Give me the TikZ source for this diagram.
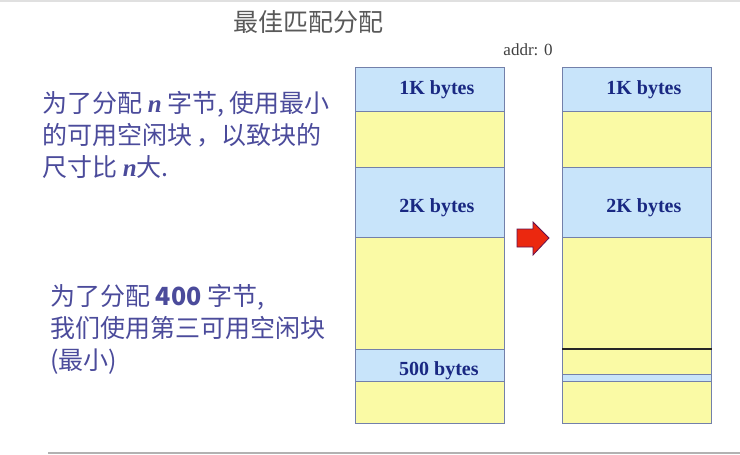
\documentclass[tikz,border=0pt]{standalone}
\usepackage{fontspec}
\setmainfont{Liberation Serif}
\newfontfamily\cjk{Noto Sans CJK SC}
\usetikzlibrary{positioning}

\definecolor{memblue}{RGB}{200,228,250}
\definecolor{memyellow}{RGB}{250,250,165}
\definecolor{memedge}{RGB}{115,128,170}
\definecolor{labblue}{RGB}{25,40,130}
\definecolor{txtblue}{RGB}{75,75,155}
\definecolor{arrred}{RGB}{235,40,15}

\newcommand{\nvar}{{\rmfamily\bfseries\itshape n}}

\begin{document}
\begin{tikzpicture}[x=1pt,y=-1pt]
            \tikzset{every node/.style={inner sep=0pt},
                    memblk/.style={draw=memedge, thick, anchor=north west, minimum width=149pt},
                    usedblk/.style={memblk, fill=memblue},
                    freeblk/.style={memblk, fill=memyellow},
                    blklab/.style={font=\bfseries\fontsize{20}{22}\selectfont, text=labblue},
                    note/.style={font=\cjk\fontsize{25}{32}\selectfont, text=txtblue, align=left, anchor=west}}
            \useasboundingbox (0,0) rectangle (740,455);
            \fill[white] (0,0) rectangle (740,455);
            \draw[black!12, line width=1.5pt] (0,1) -- (740,1);
            \draw[black!30, line width=2pt] (48,453) -- (740,453);
            % title
            \node[font=\cjk\fontsize{25}{28}\selectfont, text=black!65] (title) at (308,22) {最佳匹配分配};
            \node[font=\fontsize{17}{19}\selectfont, text=black!75] (addr) at (528,50) {addr: 0};
            % notes
            \node[note] (noteA) at (42,135) {为了分配 \nvar{} 字节, 使用最小\\的可用空闲块\,，以致块的\\尺寸比 \nvar{}大.};
            \node[note] (noteB) at (50,329) {为了分配 \textbf{400} 字节,\\我们使用第三可用空闲块\\(最小)};
            % memory before
            \node[usedblk, minimum height=44pt] (l1) at (355,67) {};
            \node[freeblk, minimum height=56pt] (l2) at (355,111) {};
            \node[usedblk, minimum height=70pt] (l3) at (355,167) {};
            \node[freeblk, minimum height=112pt] (l4) at (355,237) {};
            \node[usedblk, minimum height=32pt] (l5) at (355,349) {};
            \node[freeblk, minimum height=42pt] (l6) at (355,381) {};
            \node[blklab] at ([shift={(7,0)}]l1.center) {1K bytes};
            \node[blklab] at ([shift={(7,5)}]l3.center) {2K bytes};
            \node[blklab] at ([shift={(9,5)}]l5.center) {500 bytes};
            % memory after
            \node[usedblk, minimum height=44pt] (r1) at (562,67) {};
            \node[freeblk, minimum height=56pt] (r2) at (562,111) {};
            \node[usedblk, minimum height=70pt] (r3) at (562,167) {};
            \node[freeblk, minimum height=112pt] (r4) at (562,237) {};
            \node[freeblk, minimum height=25pt] (r5) at (562,349) {};
            \node[usedblk, minimum height=7pt] (r6) at (562,374) {};
            \node[freeblk, minimum height=42pt] (r7) at (562,381) {};
            \draw[black!85, line width=1.5pt] (r5.north west) -- (r5.north east);
            \node[blklab] at ([shift={(7,0)}]r1.center) {1K bytes};
            \node[blklab] at ([shift={(7,5)}]r3.center) {2K bytes};
            % arrow
            \draw[fill=arrred, draw=arrred!60!blue!70!black, thick]
                (517,229) -- (533,229) -- (533,222) -- (549,238) -- (533,255) -- (533,247) -- (517,247) -- cycle;
\end{tikzpicture}
\end{document}
